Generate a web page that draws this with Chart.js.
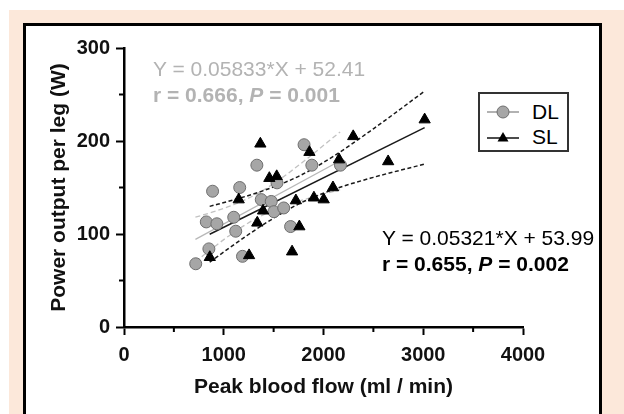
<!DOCTYPE html>
<html lang="en">
<head>
<meta charset="UTF-8" />
<title>Power output vs peak blood flow</title>
<script src="https://cdn.jsdelivr.net/npm/chart.js@4.4.1/dist/chart.umd.min.js"></script>
<style>
  body { margin: 0; background: #fff; font-family: 'Liberation Sans', Arial, sans-serif; }
  .stage { position: relative; width: 624px; height: 414px; overflow: hidden; }
  .peach { position: absolute; left: 9px; top: 10px; right: 0; bottom: 0; background: #fce8da; }
  .panel {
    position: absolute; left: 23px; top: 23px; width: 573px; height: 400px;
    background: #fff; border: 3px solid #000; border-bottom: none;
  }
  canvas { position: absolute; left: 0; top: 0; }
  .note { position: absolute; font-size: 21px; line-height: 26px; white-space: nowrap; }
  .grey { color: #b3b3b3; left: 153px; top: 56px; }
  .black { color: #000; left: 382px; top: 225px; }
  .legend {
    position: absolute; left: 478px; top: 92px; width: 87px; height: 56px;
    border: 2px solid #333; background: #fff;
  }
  .legend .row { position: absolute; left: 7px; height: 20px; display: flex; align-items: center; }
  .legend .row span { font-size: 21px; margin-left: 13px; }
</style>
</head>
<body>
<div class="stage">
  <div class="peach"></div>
  <div class="panel"></div>
  <canvas id="flowChart" width="624" height="414"></canvas>

  <div class="note grey">
    Y = 0.05833*X + 52.41<br />
    <b>r = 0.666, <i>P</i> = 0.001</b>
  </div>
  <div class="note black">
    Y = 0.05321*X + 53.99<br />
    <b>r = 0.655, <i>P</i> = 0.002</b>
  </div>

  <div class="legend">
    <div class="row" style="top: 8px">
      <svg width="32" height="16"><line x1="0" y1="8" x2="32" y2="8" stroke="#999" stroke-width="1.5" /><circle cx="16" cy="8" r="6" fill="#a6a6a6" stroke="#6e6e6e" /></svg>
      <span>DL</span>
    </div>
    <div class="row" style="top: 33px">
      <svg width="32" height="16"><line x1="0" y1="9" x2="32" y2="9" stroke="#111" stroke-width="1.5" /><polygon points="16,3 21.5,12.5 10.5,12.5" fill="#000" /></svg>
      <span>SL</span>
    </div>
  </div>
</div>

<script>
  // DL (grey circles)
  const dlFlow = [719, 851, 825, 931, 888, 1120, 1100, 1160, 1188, 1332, 1376, 1476, 1503, 1534, 1601, 1670, 1805, 1883, 2170]
  const dlPower = [68, 84, 113, 111, 146, 103, 118, 150, 76, 174, 137, 135, 124, 155, 128, 108, 196, 174, 174]

  // SL (black triangles)
  const slFlow = [860, 1254, 1150, 1336, 1367, 1394, 1457, 1531, 1685, 1723, 1758, 1859, 1904, 2002, 2095, 2156, 2298, 2648, 3014]
  const slPower = [75, 77, 137, 112, 197, 125, 160, 162, 81, 136, 108, 188, 139, 137, 150, 180, 205, 178, 223]

  // fitted lines and 95% bands
  const dlFitX = [716, 2167]
  const dlFitY = [94.2, 178.8]
  const dlBandX = [716, 900, 1100, 1320, 1550, 1800, 2167]
  const dlBandUpper = [118.1, 124.0, 131.5, 142.4, 157.9, 178.0, 209.8]
  const dlBandLower = [70.3, 85.8, 101.7, 116.4, 127.7, 136.8, 147.8]

  const slFitX = [859, 3014]
  const slFitY = [99.7, 214.4]
  const slBandX = [859, 1100, 1400, 1759, 2100, 2500, 3014]
  const slBandUpper = [129.7, 136.7, 146.7, 162.5, 183.6, 213.1, 253.6]
  const slBandLower = [69.7, 88.3, 110.3, 132.7, 147.8, 160.9, 175.2]

  const xTicks = [0, 1000, 2000, 3000, 4000]
  const yTicks = [0, 100, 200, 300]
  const xMinor = [500, 1500, 2500, 3500]
  const yMinor = [50, 150, 250]

  const pts = (xs, ys) => xs.map((x, i) => ({ x: x, y: ys[i] }))

  function lineSet(xs, ys, color, width, dash, order) {
    return {
      data: pts(xs, ys),
      showLine: true,
      borderColor: color,
      borderWidth: width,
      borderDash: dash,
      pointRadius: 0,
      cubicInterpolationMode: 'monotone',
      fill: false,
      order: order
    }
  }

  // minor ticks (shorter) drawn along the axes
  const minorTicks = {
    id: 'minorTicks',
    afterDraw(chart) {
      const ctx = chart.ctx
      const xs = chart.scales.x
      const ys = chart.scales.y
      const area = chart.chartArea
      ctx.save()
      ctx.strokeStyle = '#000'
      ctx.lineWidth = 2
      ctx.beginPath()
      yMinor.forEach(v => {
        const py = ys.getPixelForValue(v)
        ctx.moveTo(area.left - 5, py)
        ctx.lineTo(area.left, py)
      })
      xMinor.forEach(v => {
        const px = xs.getPixelForValue(v)
        ctx.moveTo(px, area.bottom)
        ctx.lineTo(px, area.bottom + 5)
      })
      ctx.stroke()
      ctx.restore()
    }
  }

  Chart.defaults.font.family = "'Liberation Sans', Arial, sans-serif"
  Chart.defaults.color = '#111'

  new Chart(document.getElementById('flowChart'), {
    type: 'scatter',
    data: {
      datasets: [
        {
          label: 'DL',
          data: pts(dlFlow, dlPower),
          pointStyle: 'circle',
          pointRadius: 6,
          backgroundColor: '#a6a6a6',
          borderColor: '#6e6e6e',
          borderWidth: 1,
          order: 1
        },
        {
          label: 'SL',
          data: pts(slFlow, slPower),
          pointStyle: 'triangle',
          pointRadius: 6.5,
          backgroundColor: '#000',
          borderColor: '#000',
          borderWidth: 1,
          order: 0
        },
        lineSet(dlFitX, dlFitY, '#b8b8b8', 1.3, [], 5),
        lineSet(dlBandX, dlBandUpper, '#c2c2c2', 1.3, [5, 3], 5),
        lineSet(dlBandX, dlBandLower, '#c2c2c2', 1.3, [5, 3], 5),
        lineSet(slFitX, slFitY, '#1a1a1a', 1.5, [], 4),
        lineSet(slBandX, slBandUpper, '#1a1a1a', 1.5, [4, 2.5], 4),
        lineSet(slBandX, slBandLower, '#1a1a1a', 1.5, [4, 2.5], 4)
      ]
    },
    options: {
      responsive: false,
      animation: false,
      layout: { padding: { left: 47, top: 48, right: 101, bottom: 14 } },
      plugins: { legend: { display: false }, tooltip: { enabled: false } },
      scales: {
        x: {
          type: 'linear',
          min: 0,
          max: 4000,
          afterFit: s => { s.height = 73 },
          afterBuildTicks: s => { s.ticks = xTicks.map(v => ({ value: v })) },
          ticks: {
            padding: 8,
            font: { size: 20, weight: 'bold' },
            color: '#111',
            callback: v => String(v)
          },
          grid: { drawOnChartArea: false, tickLength: 8, tickColor: '#000', tickWidth: 2 },
          border: { color: '#000', width: 2.5 },
          title: {
            display: true,
            text: 'Peak blood flow (ml / min)',
            font: { size: 21, weight: 'bold' },
            color: '#111',
            padding: { top: 0, bottom: 0 }
          }
        },
        y: {
          type: 'linear',
          min: 0,
          max: 300,
          afterFit: s => { s.width = 77 },
          afterBuildTicks: s => { s.ticks = yTicks.map(v => ({ value: v })) },
          ticks: {
            padding: 6,
            font: { size: 20, weight: 'bold' },
            color: '#111',
            callback: v => String(v)
          },
          grid: { drawOnChartArea: false, tickLength: 8, tickColor: '#000', tickWidth: 2 },
          border: { color: '#000', width: 2.5 },
          title: {
            display: true,
            text: 'Power output per leg (W)',
            font: { size: 21, weight: 'bold' },
            color: '#111',
            padding: { top: 0, bottom: 0 }
          }
        }
      }
    },
    plugins: [minorTicks]
  })
</script>
</body>
</html>
